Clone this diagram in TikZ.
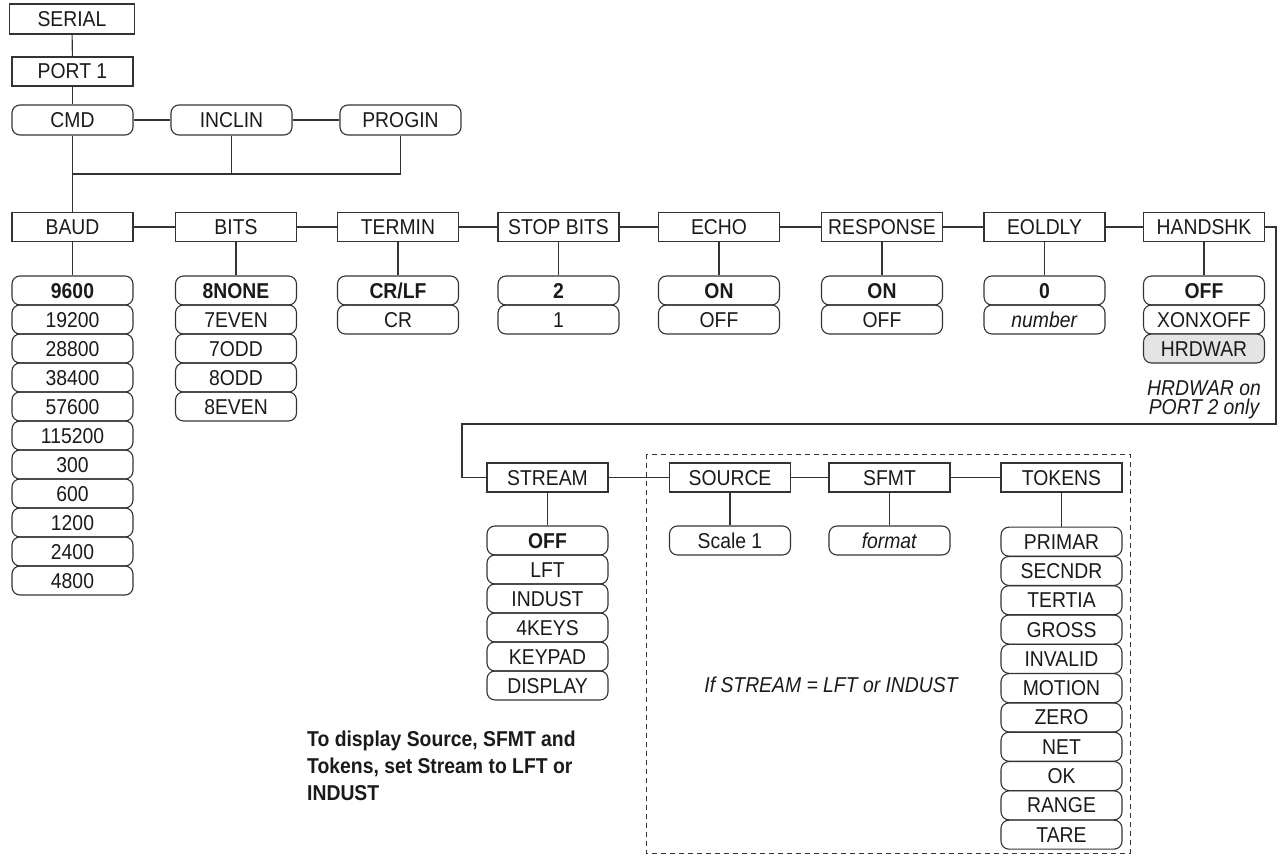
\documentclass[tikz,border=0pt]{standalone}
\usepackage{fontspec}
\setmainfont{Liberation Sans}[FakeStretch=0.9]
\newcommand\dfont{\fontsize{21.5}{17}\selectfont}
\definecolor{lc}{HTML}{333333}
\definecolor{tc}{HTML}{1A1A1A}
\definecolor{hw}{HTML}{E4E4E4}
\tikzset{
  hdr/.style={draw=lc, line width=1.1pt, minimum width=121pt, minimum height=29pt,
    inner sep=0pt, font=\dfont, text=tc, text height=15pt, text depth=0pt},
  val/.style={hdr, rounded corners=8pt},
  conn/.style={draw=lc, line width=1.1pt},
  note/.style={font=\dfont\itshape, text=tc, align=center, inner sep=0pt},
}
\begin{document}
\begin{tikzpicture}[x=1pt,y=-1pt]
\useasboundingbox (0,0) rectangle (1283,856);

% top part
\node[hdr, minimum width=125pt, minimum height=30pt] (serial) at (72,19) {SERIAL};
\node[hdr] (port) at (72.5,71.5) {PORT 1};
\node[val, minimum height=30pt] (cmd) at (72.5,120) {CMD};
\node[val, minimum height=30pt] (inclin) at (231.5,120) {INCLIN};
\node[val, minimum height=30pt] (progin) at (400.5,120) {PROGIN};
\coordinate (bus) at (72.5,174);

% header row
\node[hdr] (baud) at (72.5,227) {BAUD};
\node[hdr] (bits) at (236,227) {BITS};
\node[hdr] (termin) at (398,227) {TERMIN};
\node[hdr] (stopb) at (558.5,227) {STOP BITS};
\node[hdr] (echo) at (719,227) {ECHO};
\node[hdr] (resp) at (882,227) {RESPONSE};
\node[hdr] (eoldly) at (1044.5,227) {EOLDLY};
\node[hdr] (handshk) at (1204,227) {HANDSHK};

\draw[conn] (serial) -- (port);
\draw[conn] (port) -- (cmd);
\draw[conn] (cmd) -- (inclin);
\draw[conn] (inclin) -- (progin);
\draw[conn] (cmd) -- (baud);
\draw[conn] (inclin.south) -- (inclin.south |- bus);
\draw[conn] (progin.south) -- (progin.south |- bus) -- (bus);
\draw[conn] (baud) -- (bits);
\draw[conn] (bits) -- (termin);
\draw[conn] (termin) -- (stopb);
\draw[conn] (stopb) -- (echo);
\draw[conn] (echo) -- (resp);
\draw[conn] (resp) -- (eoldly);
\draw[conn] (eoldly) -- (handshk);

% value lists
\foreach [count=\i from 0] \t in {\textbf{9600},19200,28800,38400,57600,115200,300,600,1200,2400,4800}
  \node[val] (baud\i) at (72.5,290.5+29*\i) {\t};
\foreach [count=\i from 0] \t in {\textbf{8NONE},7EVEN,7ODD,8ODD,8EVEN}
  \node[val] (bits\i) at (236,290.5+29*\i) {\t};
\foreach [count=\i from 0] \t in {\textbf{CR/LF},CR}
  \node[val] (termin\i) at (398,290.5+29*\i) {\t};
\foreach [count=\i from 0] \t in {\textbf{2},1}
  \node[val] (stopb\i) at (558.5,290.5+29*\i) {\t};
\foreach [count=\i from 0] \t in {\textbf{ON},OFF}
  \node[val] (echo\i) at (719,290.5+29*\i) {\t};
\foreach [count=\i from 0] \t in {\textbf{ON},OFF}
  \node[val] (resp\i) at (882,290.5+29*\i) {\t};
\foreach [count=\i from 0] \t in {\textbf{0},\textit{number}}
  \node[val] (eoldly\i) at (1044.5,290.5+29*\i) {\t};
\node[val] (handshk0) at (1204,290.5) {\textbf{OFF}};
\node[val] (handshk1) at (1204,319.5) {XONXOFF};
\node[val, fill=hw] (handshk2) at (1204,348.5) {HRDWAR};
\node[note, font=\fontsize{21.5}{19.5}\selectfont\itshape] (hwnote) at (1204,400) {HRDWAR on\\PORT 2 only};

\draw[conn] (baud) -- (baud0);
\draw[conn] (bits) -- (bits0);
\draw[conn] (termin) -- (termin0);
\draw[conn] (stopb) -- (stopb0);
\draw[conn] (echo) -- (echo0);
\draw[conn] (resp) -- (resp0);
\draw[conn] (eoldly) -- (eoldly0);
\draw[conn] (handshk) -- (handshk0);

% lower part
\node[hdr] (stream) at (547.5,477.5) {STREAM};
\node[hdr] (source) at (730,477.5) {SOURCE};
\node[hdr] (sfmt) at (889.5,477.5) {SFMT};
\node[hdr] (tokens) at (1061.5,477.5) {TOKENS};

\coordinate (turnR) at (1276,424);
\coordinate (turnL) at (462,424);
\draw[conn] (handshk.east) -| (turnR) -- (turnL) |- (stream.west);
\draw[conn] (stream) -- (source);
\draw[conn] (source) -- (sfmt);
\draw[conn] (sfmt) -- (tokens);

\draw[lc, line width=1pt, dash pattern=on 5pt off 4pt] (646,454) rectangle (1130,853);

\foreach [count=\i from 0] \t in {\textbf{OFF},LFT,INDUST,4KEYS,KEYPAD,DISPLAY}
  \node[val] (stream\i) at (547.5,540.5+29*\i) {\t};
\node[val] (source0) at (730,540.5) {Scale 1};
\node[val] (sfmt0) at (889.5,540.5) {\textit{format}};
\foreach [count=\i from 0] \t in {PRIMAR,SECNDR,TERTIA,GROSS,INVALID,MOTION,ZERO,NET,OK,RANGE,TARE}
  \node[val] (tokens\i) at (1061.5,541.65+29.3*\i) {\t};

\draw[conn] (stream) -- (stream0);
\draw[conn] (source) -- (source0);
\draw[conn] (sfmt) -- (sfmt0);
\draw[conn] (tokens) -- (tokens0);

\node[note] (ifnote) at (831,685) {If STREAM = LFT or INDUST};
\node[anchor=north west, align=left, inner sep=0pt, text=tc,
  font=\fontsize{21.5}{27}\selectfont\bfseries] (tip) at (307,731)
  {To display Source, SFMT and\\Tokens, set Stream to LFT or\\INDUST};
\end{tikzpicture}
\end{document}
